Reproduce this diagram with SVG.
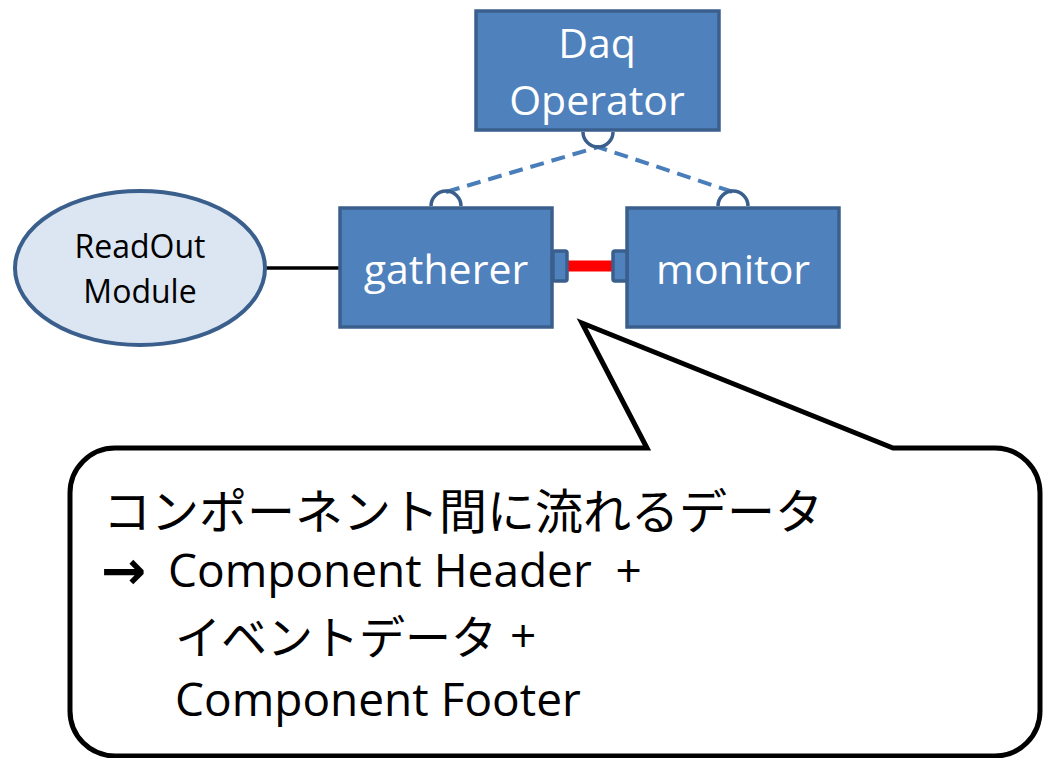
<svg xmlns="http://www.w3.org/2000/svg" width="1044" height="758" viewBox="0 0 1044 758">
<style>
.box{fill:#4F81BD;stroke:#3A5F8C;stroke-width:3.5}
.sock{fill:none;stroke:#3A5F8C;stroke-width:3.5}
.wt{font-family:"Open Sans","Noto Sans",sans-serif;fill:#fff;font-size:41px;text-anchor:middle}
.bt{font-family:"Open Sans","Noto Sans",sans-serif;fill:#000;font-size:32px;text-anchor:middle}
.ct{font-family:"Open Sans","Noto Sans",sans-serif;fill:#000;font-size:46px}
.jp{font-family:"Noto Sans CJK JP",sans-serif;fill:#000;font-size:48px}
.ar{font-family:"DejaVu Sans",sans-serif;fill:#000;font-size:54px;font-weight:bold}
</style>
<g id="connectors">
<line x1="264" y1="268" x2="339" y2="268" stroke="#000" stroke-width="3.5"/>
<polyline points="446,192 598,147 733,192" fill="none" stroke="#4A7EBB" stroke-width="4" stroke-dasharray="14,8"/>
<line x1="567" y1="266" x2="613" y2="266" stroke="#FF0000" stroke-width="11"/>
</g>
<g id="readout">
<ellipse cx="140" cy="268" rx="125" ry="77" fill="#DCE6F2" stroke="#3A5F8C" stroke-width="4"/>
<text class="bt" x="140" y="258">ReadOut</text>
<text class="bt" x="140" y="303">Module</text>
</g>
<g id="daq">
<path class="sock" d="M583,132 A15,15 0 0 0 613,132"/>
<rect class="box" x="476" y="11" width="243" height="119"/>
<text class="wt" x="597" y="58">Daq</text>
<text class="wt" x="597" y="115">Operator</text>
</g>
<g id="gatherer">
<path class="sock" d="M431,206 A15,15 0 0 1 461,206"/>
<rect class="box" x="340" y="208" width="212" height="119"/>
<rect class="box" x="553" y="251" width="14" height="30" rx="2"/>
<text class="wt" x="446" y="284">gatherer</text>
</g>
<g id="monitor">
<path class="sock" d="M718,206 A15,15 0 0 1 748,206"/>
<rect class="box" x="627" y="208" width="212" height="119"/>
<rect class="box" x="613" y="251" width="14" height="30" rx="2"/>
<text class="wt" x="733" y="284">monitor</text>
</g>
<g id="callout">
<path d="M115,448 L647,448 L582,323 L893,448 L995,448 A45,45 0 0 1 1040,493 L1040,711 A45,45 0 0 1 995,756 L115,756 A45,45 0 0 1 70,711 L70,493 A45,45 0 0 1 115,448 Z" fill="#fff" stroke="#000" stroke-width="5" stroke-linejoin="miter"/>
<text class="jp" x="103" y="529">コンポーネント間に流れるデータ</text>
<text class="ar" x="101" y="589">→</text>
<text class="ct" x="168" y="587" xml:space="preserve">Component Header  +</text>
<text class="jp" x="175" y="654" style="font-size:46px">イベントデータ</text>
<text class="ct" x="510" y="652">+</text>
<text class="ct" x="175" y="716">Component Footer</text>
</g>
</svg>
